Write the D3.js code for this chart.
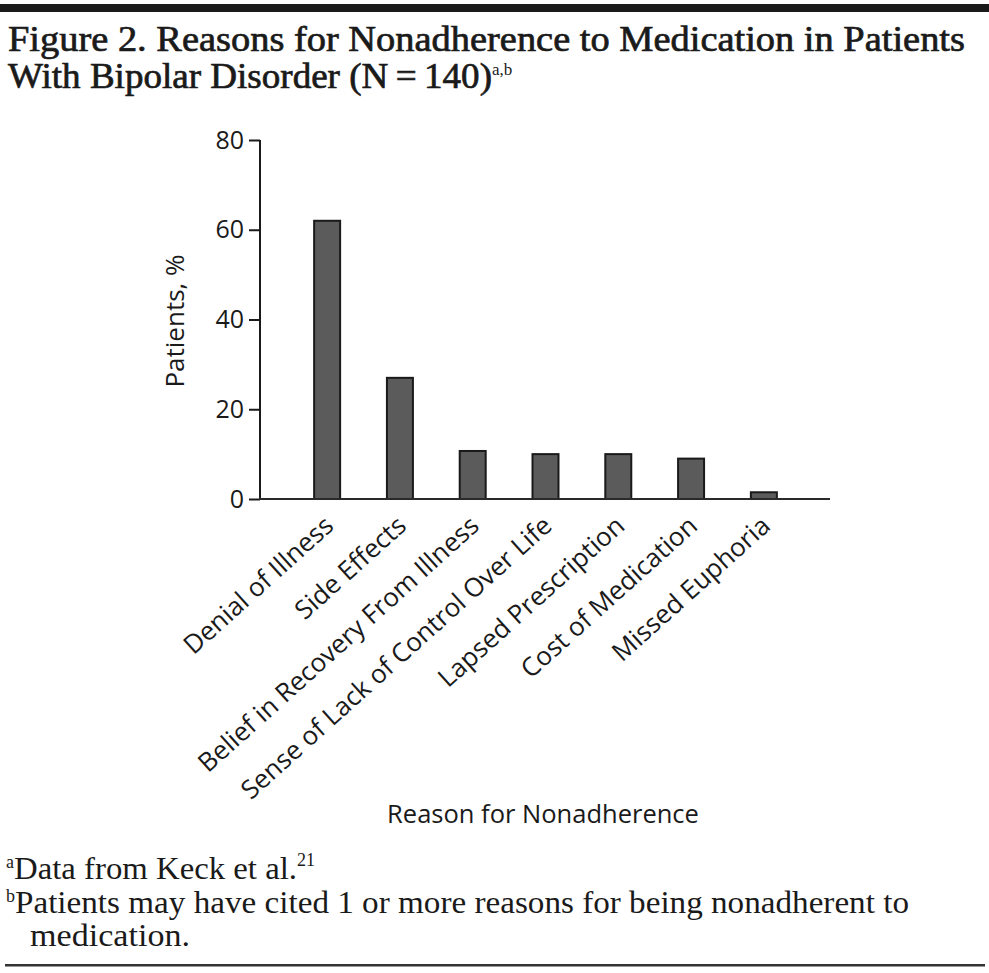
<!DOCTYPE html>
<html><head><meta charset="utf-8">
<script src="https://cdn.jsdelivr.net/npm/d3@7"></script>
<style>
html,body{margin:0;padding:0;background:#fff;}
svg{display:block;}
</style></head>
<body>
<script>
const categories = ["Denial of Illness","Side Effects","Belief in Recovery From Illness","Sense of Lack of Control Over Life","Lapsed Prescription","Cost of Medication","Missed Euphoria"];
const values = [62, 27, 10.7, 10, 10, 9, 1.5];
const yTicks = [0, 20, 40, 60, 80];
const titleLines = ["Figure 2. Reasons for Nonadherence to Medication in Patients", "With Bipolar Disorder (N\u2009=\u2009140)"];
const yLabel = "Patients, %";
const xLabel = "Reason for Nonadherence";

const W = 989, H = 973;
const svg = d3.select("body").append("svg").attr("width", W).attr("height", H);

// top rule
svg.append("rect").attr("x", 0).attr("y", 4).attr("width", W).attr("height", 8).attr("fill", "#1a1a1a");

const serif = "'Liberation Serif','Times New Roman',serif";
const sans = "'Open Sans','Noto Sans',sans-serif";

svg.append("text").attr("x", 8).attr("y", 51)
  .attr("font-family", serif).attr("font-size", 36).attr("fill", "#1a1a1a")
  .attr("stroke", "#1a1a1a").attr("stroke-width", 0.7)
  .attr("textLength", 957).attr("lengthAdjust", "spacingAndGlyphs")
  .text(titleLines[0]);
const t2 = svg.append("text").attr("x", 8).attr("y", 88)
  .attr("font-family", serif).attr("font-size", 36).attr("fill", "#1a1a1a")
  .attr("stroke", "#1a1a1a").attr("stroke-width", 0.7);
t2.append("tspan").attr("textLength", 484).attr("lengthAdjust", "spacingAndGlyphs").text(titleLines[1]);
t2.append("tspan").attr("font-size", 17).attr("dy", -13).attr("stroke-width", 0).text("a,b");

const x = d3.scaleBand().domain(categories).range([261, 830]).paddingInner(0.643).paddingOuter(0.73);
const y = d3.scaleLinear().domain([0, 80]).range([499, 140]);

// y axis
const yAxis = svg.append("g").attr("transform", "translate(260,0)")
  .call(d3.axisLeft(y).tickValues(yTicks).tickSize(11).tickPadding(5));
yAxis.select(".domain").attr("stroke", "#1a1a1a").attr("stroke-width", 2).attr("d", "M0,140V499");
yAxis.selectAll(".tick line").attr("stroke", "#1a1a1a").attr("stroke-width", 2);
yAxis.selectAll(".tick text").attr("font-family", sans).attr("font-size", 25).attr("fill", "#1a1a1a");

// bars
svg.append("g").selectAll("rect").data(values).join("rect")
  .attr("x", (d, i) => x(categories[i]))
  .attr("y", d => y(d))
  .attr("width", x.bandwidth())
  .attr("height", d => y(0) - y(d))
  .attr("fill", "#5b5b5b").attr("stroke", "#1a1a1a").attr("stroke-width", 2);

// x axis line
svg.append("line").attr("x1", 259).attr("x2", 830).attr("y1", 499).attr("y2", 499)
  .attr("stroke", "#2a2a2a").attr("stroke-width", 2);

// x labels
svg.append("g").selectAll("text").data(categories).join("text")
  .attr("transform", d => `translate(${x(d) + x.bandwidth() / 2 + 8},${528}) rotate(-42)`)
  .attr("text-anchor", "end")
  .attr("font-family", sans).attr("font-size", 26).attr("fill", "#1a1a1a")
  .text(d => d);

svg.append("text").attr("transform", "translate(184,321) rotate(-90)")
  .attr("text-anchor", "middle").attr("font-family", sans).attr("font-size", 26).attr("fill", "#1a1a1a")
  .text(yLabel);

svg.append("text").attr("x", 543).attr("y", 823).attr("text-anchor", "middle")
  .attr("font-family", sans).attr("font-size", 25.5).attr("fill", "#1a1a1a")
  .text(xLabel);

// footnotes
const f1 = svg.append("text").attr("x", 6).attr("y", 879).attr("font-family", serif).attr("font-size", 31).attr("fill", "#1a1a1a");
f1.append("tspan").attr("font-size", 18).attr("dy", -11).text("a");
f1.append("tspan").attr("dy", 11).attr("textLength", 283).attr("lengthAdjust", "spacingAndGlyphs").text("Data from Keck et al.");
f1.append("tspan").attr("font-size", 18).attr("dy", -13).text("21");

const f2 = svg.append("text").attr("x", 6).attr("y", 913).attr("font-family", serif).attr("font-size", 31).attr("fill", "#1a1a1a");
f2.append("tspan").attr("font-size", 18).attr("dy", -11).text("b");
f2.append("tspan").attr("dy", 11).attr("textLength", 894).attr("lengthAdjust", "spacingAndGlyphs").text("Patients may have cited 1 or more reasons for being nonadherent to");

svg.append("text").attr("x", 30).attr("y", 946).attr("font-family", serif).attr("font-size", 31).attr("fill", "#1a1a1a")
  .attr("textLength", 160).attr("lengthAdjust", "spacingAndGlyphs")
  .text("medication.");

svg.append("rect").attr("x", 5).attr("y", 964).attr("width", 980).attr("height", 2.5).attr("fill", "#333");
</script>
</body></html>
